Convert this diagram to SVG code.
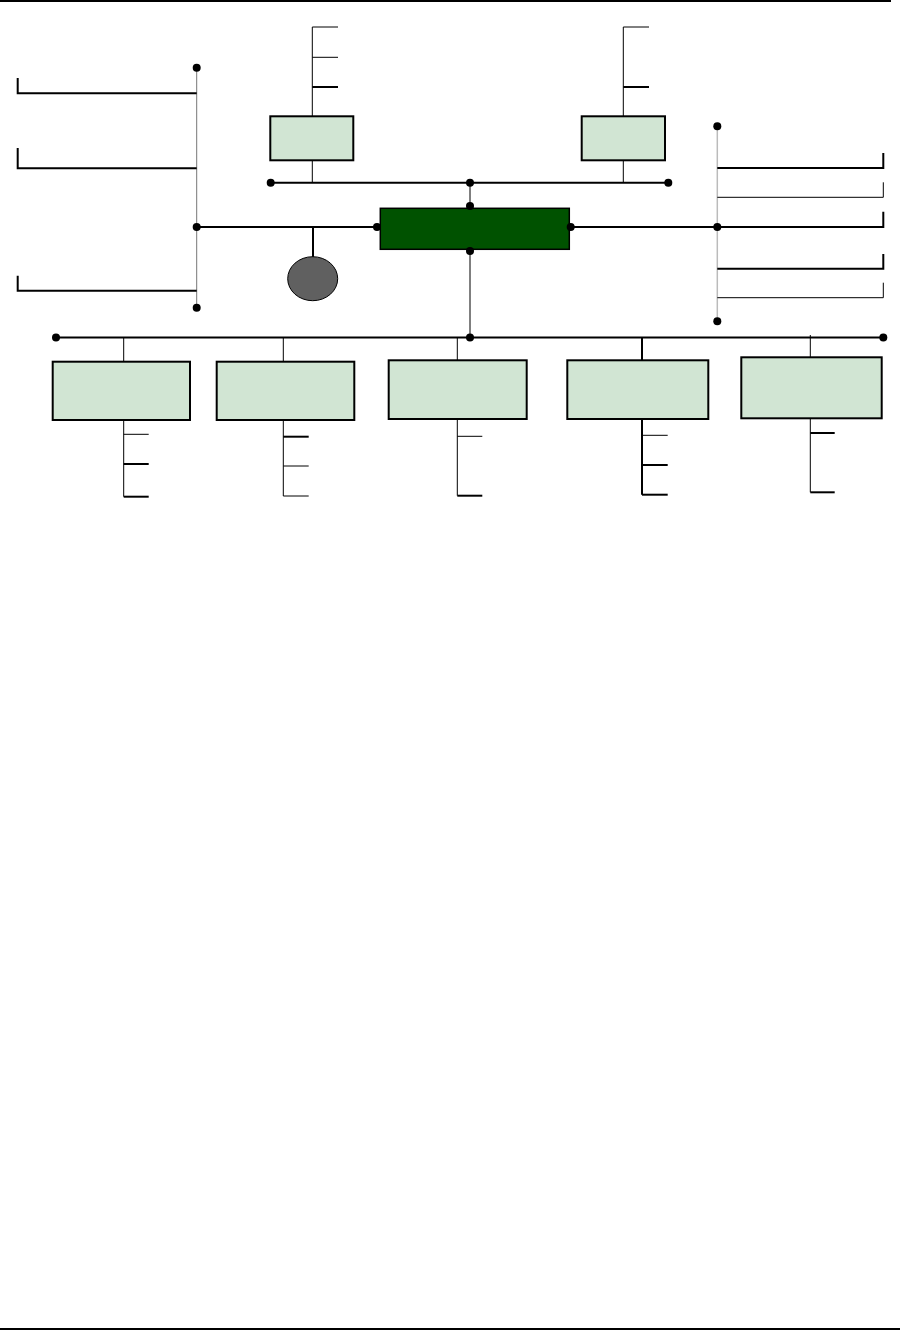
<svg xmlns="http://www.w3.org/2000/svg" width="900" height="1330" viewBox="0 0 900 1330">
<style>
.l{stroke:#000;stroke-width:1;fill:none}
.t{stroke:#000;stroke-width:2;fill:none}
.g{stroke:#777;stroke-width:1;fill:none}
.gl{stroke:#bbb;stroke-width:1.5;fill:none}
.box{fill:#d1e5d3;stroke:#000;stroke-width:2}
.dot{fill:#000}
</style>
<rect width="900" height="1330" fill="#fff"/>
<g id="page-rules">
<line x1="0" y1="1" x2="891" y2="1" class="t"/>
<line x1="0" y1="1329" x2="900" y2="1329" class="t"/>
</g>
<g id="connectors">
<line x1="196.7" y1="68" x2="196.7" y2="308" class="g"/>
<polyline points="17.7,78 17.7,93.3 196.7,93.3" class="t"/>
<polyline points="17.7,148 17.7,168.3 196.7,168.3" class="t"/>
<polyline points="17.7,275.7 17.7,290.7 196.7,290.7" class="t"/>
<line x1="196.7" y1="227" x2="377" y2="227" class="t"/>
<line x1="313" y1="227" x2="313" y2="257" class="t"/>
<line x1="270.7" y1="182.7" x2="668.3" y2="182.7" class="t"/>
<line x1="470" y1="182.7" x2="470" y2="206" class="l"/>
<line x1="470" y1="251" x2="470" y2="337.5" class="l"/>
<line x1="312.3" y1="27" x2="312.3" y2="116.3" class="l"/>
<line x1="312.3" y1="160.3" x2="312.3" y2="182.7" class="l"/>
<line x1="312.3" y1="27" x2="338" y2="27" class="l"/>
<line x1="312.3" y1="57.3" x2="338" y2="57.3" class="l"/>
<line x1="312.3" y1="87" x2="338" y2="87" class="t"/>
<line x1="623.3" y1="27" x2="623.3" y2="116.3" class="l"/>
<line x1="623.3" y1="160.3" x2="623.3" y2="182.7" class="l"/>
<line x1="623.3" y1="27" x2="649" y2="27" class="l"/>
<line x1="623.3" y1="87" x2="649" y2="87" class="t"/>
<line x1="570" y1="227" x2="717.3" y2="227" class="t"/>
<line x1="717.3" y1="126.3" x2="717.3" y2="321.3" class="gl"/>
<polyline points="717.3,168 883.3,168 883.3,153" class="t"/>
<polyline points="717.3,197.3 883.3,197.3 883.3,182.3" class="l"/>
<polyline points="717.3,227 883.3,227 883.3,211.7" class="t"/>
<polyline points="717.3,268.7 883.3,268.7 883.3,254" class="t"/>
<polyline points="717.3,297.7 883.3,297.7 883.3,282.7" class="l"/>
<line x1="56" y1="337.5" x2="883.3" y2="337.5" class="t"/>
<line x1="123.7" y1="337.5" x2="123.7" y2="361.7" class="l"/>
<line x1="123.7" y1="420" x2="123.7" y2="496.7" class="l"/>
<line x1="123.7" y1="434.3" x2="148.7" y2="434.3" class="l"/>
<line x1="123.7" y1="464" x2="148.7" y2="464" class="t"/>
<line x1="123.7" y1="496.7" x2="148.7" y2="496.7" class="t"/>
<line x1="283.3" y1="337.5" x2="283.3" y2="361.7" class="l"/>
<line x1="283.3" y1="420" x2="283.3" y2="496" class="l"/>
<line x1="283.3" y1="436.7" x2="308.7" y2="436.7" class="t"/>
<line x1="283.3" y1="466" x2="308.7" y2="466" class="l"/>
<line x1="283.3" y1="496" x2="308.7" y2="496" class="l"/>
<line x1="457.3" y1="337.5" x2="457.3" y2="360.3" class="l"/>
<line x1="457.3" y1="419" x2="457.3" y2="495.7" class="l"/>
<line x1="457.3" y1="436.3" x2="482.3" y2="436.3" class="l"/>
<line x1="457.3" y1="495.7" x2="482.3" y2="495.7" class="t"/>
<line x1="642" y1="337.5" x2="642" y2="360.3" class="t"/>
<line x1="642" y1="419" x2="642" y2="494.7" class="t"/>
<line x1="642" y1="435.3" x2="667.7" y2="435.3" class="l"/>
<line x1="642" y1="465" x2="667.7" y2="465" class="t"/>
<line x1="642" y1="494.7" x2="667.7" y2="494.7" class="t"/>
<line x1="810.3" y1="335" x2="810.3" y2="357.3" class="l"/>
<line x1="810.3" y1="418.3" x2="810.3" y2="492.3" class="l"/>
<line x1="810.3" y1="433" x2="834.7" y2="433" class="t"/>
<line x1="810.3" y1="492.3" x2="834.7" y2="492.3" class="t"/>
</g>
<g id="top-left-box"><rect x="270.3" y="116.3" width="83" height="44" class="box"/></g>
<g id="top-right-box"><rect x="581.7" y="116.3" width="83.3" height="44" class="box"/></g>
<g id="central-box"><rect x="380.3" y="208.3" width="189" height="41" fill="#005200" stroke="#000" stroke-width="1.5"/></g>
<g id="circle-node"><ellipse cx="312.7" cy="278.7" rx="25" ry="22" fill="#606060" stroke="#000" stroke-width="1"/></g>
<g id="bottom-box-1"><rect x="52.7" y="361.7" width="137.3" height="58.3" class="box"/></g>
<g id="bottom-box-2"><rect x="216.7" y="361.7" width="137.6" height="58.3" class="box"/></g>
<g id="bottom-box-3"><rect x="388.7" y="360.3" width="138" height="58.7" class="box"/></g>
<g id="bottom-box-4"><rect x="567.3" y="360.3" width="141" height="58.7" class="box"/></g>
<g id="bottom-box-5"><rect x="741.3" y="357.3" width="140.4" height="61" class="box"/></g>
<g id="dots">
<circle cx="196.7" cy="67.7" r="4" class="dot"/>
<circle cx="196.7" cy="227" r="4" class="dot"/>
<circle cx="196.7" cy="307.7" r="4" class="dot"/>
<circle cx="377" cy="227" r="4" class="dot"/>
<circle cx="570.7" cy="227" r="4" class="dot"/>
<circle cx="270.7" cy="182.7" r="4" class="dot"/>
<circle cx="470" cy="182.7" r="4" class="dot"/>
<circle cx="668.3" cy="182.7" r="4" class="dot"/>
<circle cx="470" cy="206" r="4" class="dot"/>
<circle cx="470" cy="251" r="4" class="dot"/>
<circle cx="470" cy="337.5" r="4" class="dot"/>
<circle cx="717.3" cy="126.3" r="4" class="dot"/>
<circle cx="717.3" cy="227" r="4" class="dot"/>
<circle cx="717.3" cy="321.3" r="4" class="dot"/>
<circle cx="56" cy="337.5" r="4" class="dot"/>
<circle cx="883.3" cy="337.5" r="4" class="dot"/>
</g>
</svg>
